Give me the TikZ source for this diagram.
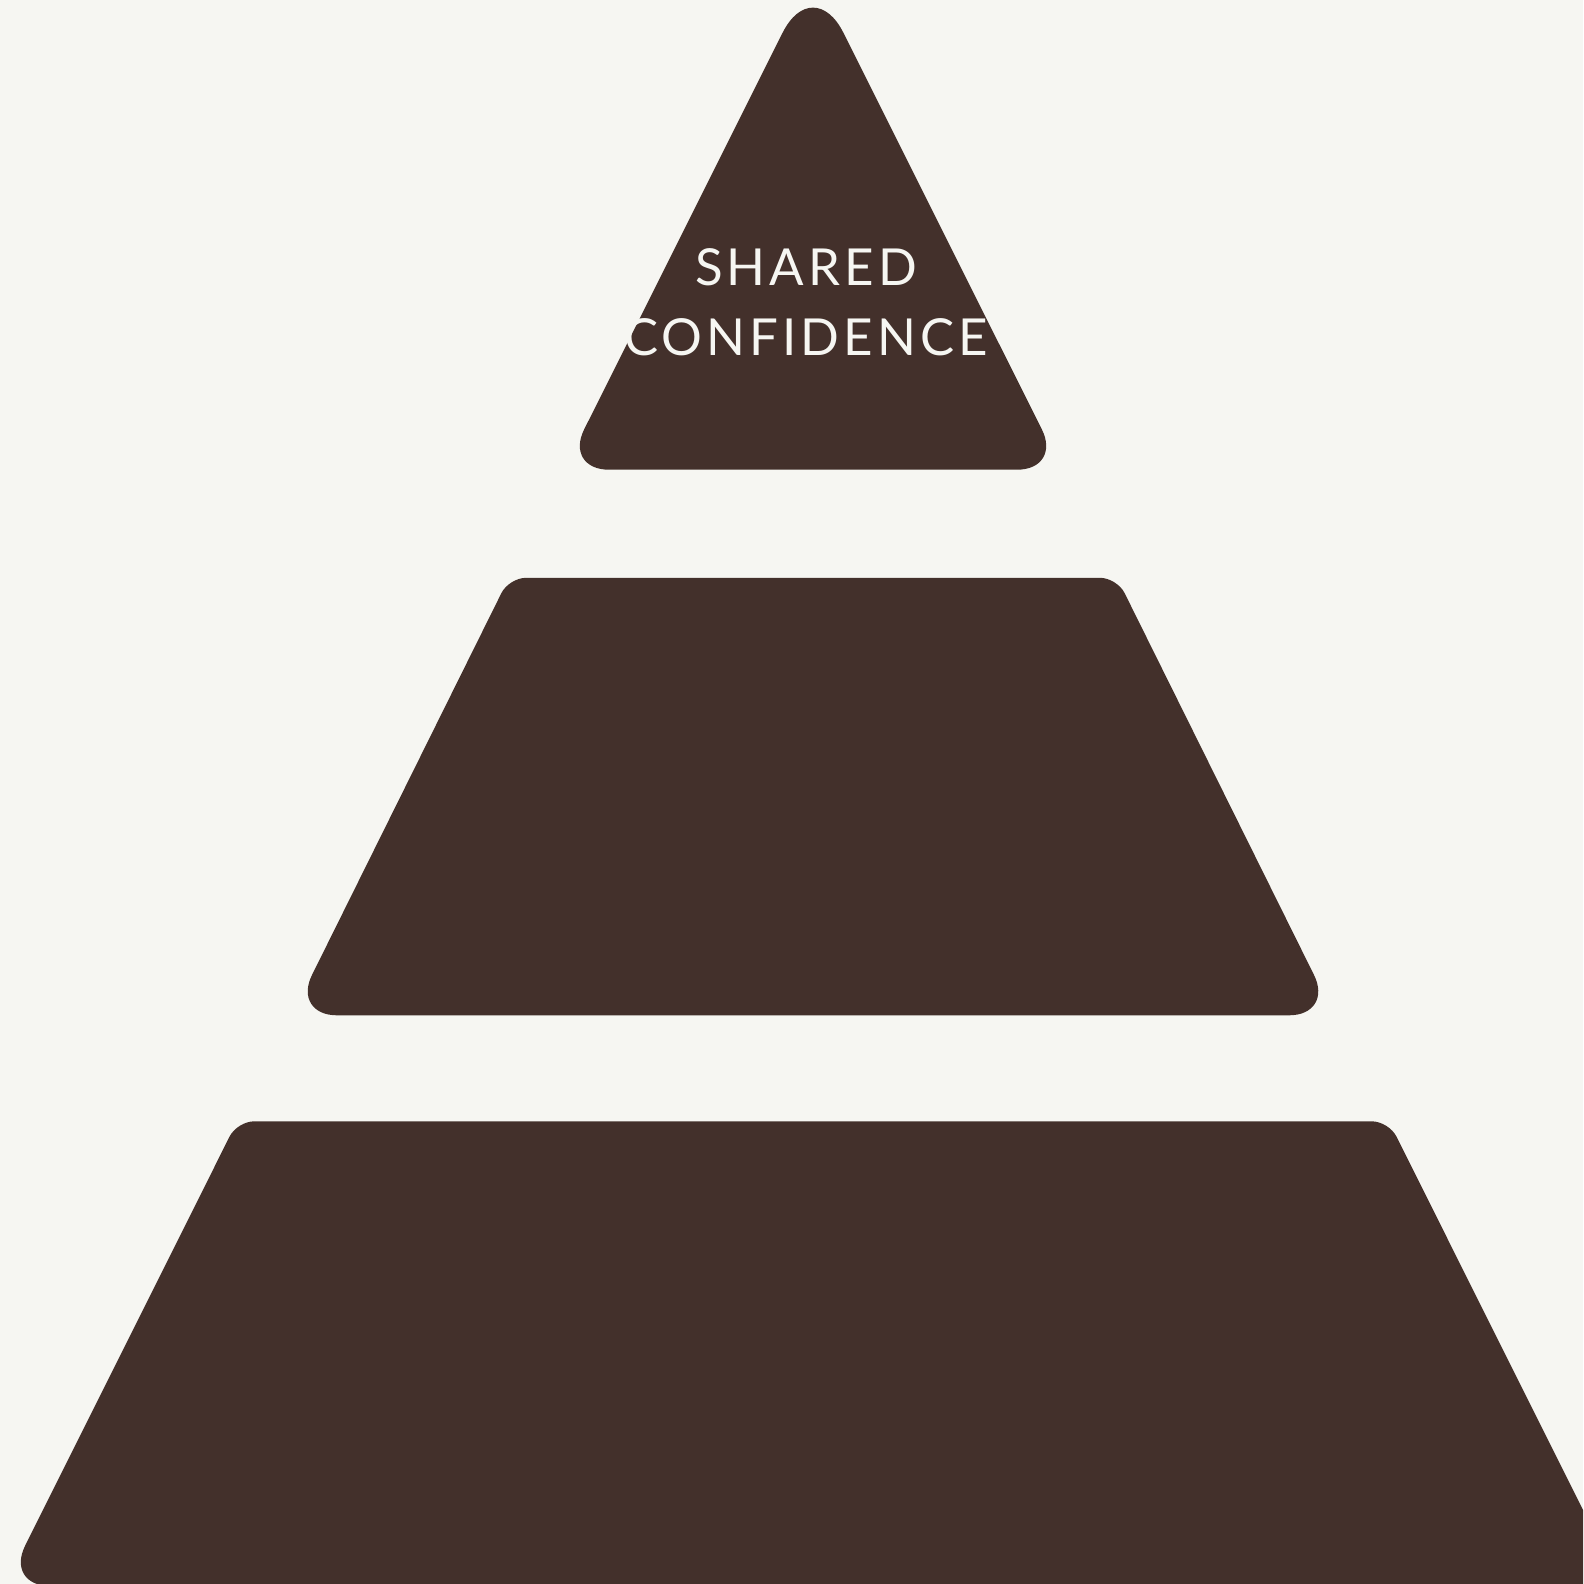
\documentclass[tikz,border=0pt]{standalone}
\usepackage{fontspec}
\setmainfont{Lato}[LetterSpace=8]
\definecolor{bgcol}{HTML}{F6F6F2}
\definecolor{tiercol}{HTML}{43302B}
\begin{document}
\begin{tikzpicture}[x=1pt,y=-1pt,
  tier/.style={fill=tiercol,draw=none},
  label/.style={text=bgcol,anchor=base,inner sep=0pt,font=\fontsize{51}{60}\selectfont}]
\useasboundingbox (0,0) rectangle (1583,1584);
\fill[bgcol] (0,0) rectangle (1583,1584);
\clip (0,0) rectangle (1583,1584);
% top triangle
\fill[tier] (813,469.7) [rounded corners=45] -- (1062,469.7) [rounded corners=68] -- (813,-28) [rounded corners=45] -- (564,469.7) [sharp corners] -- cycle;
% middle trapezoid
\fill[tier] (813,1015.3) [rounded corners=45] -- (1334,1015.3) [rounded corners=17] -- (1117,577.8) [rounded corners=17] -- (509,577.8) [rounded corners=45] -- (292,1015.3) [sharp corners] -- cycle;
% bottom trapezoid
\fill[tier] (813,1586) [rounded corners=45] -- (1621,1586) [rounded corners=17] -- (1388.8,1121.3) [rounded corners=17] -- (237.2,1121.3) [rounded corners=45] -- (5,1586) [sharp corners] -- cycle;
\node[label] (t1) at (806,285.9) {SHARED};
\node[label] (t2) at (806,355.6) {CONFIDENCE};
\end{tikzpicture}
\end{document}
